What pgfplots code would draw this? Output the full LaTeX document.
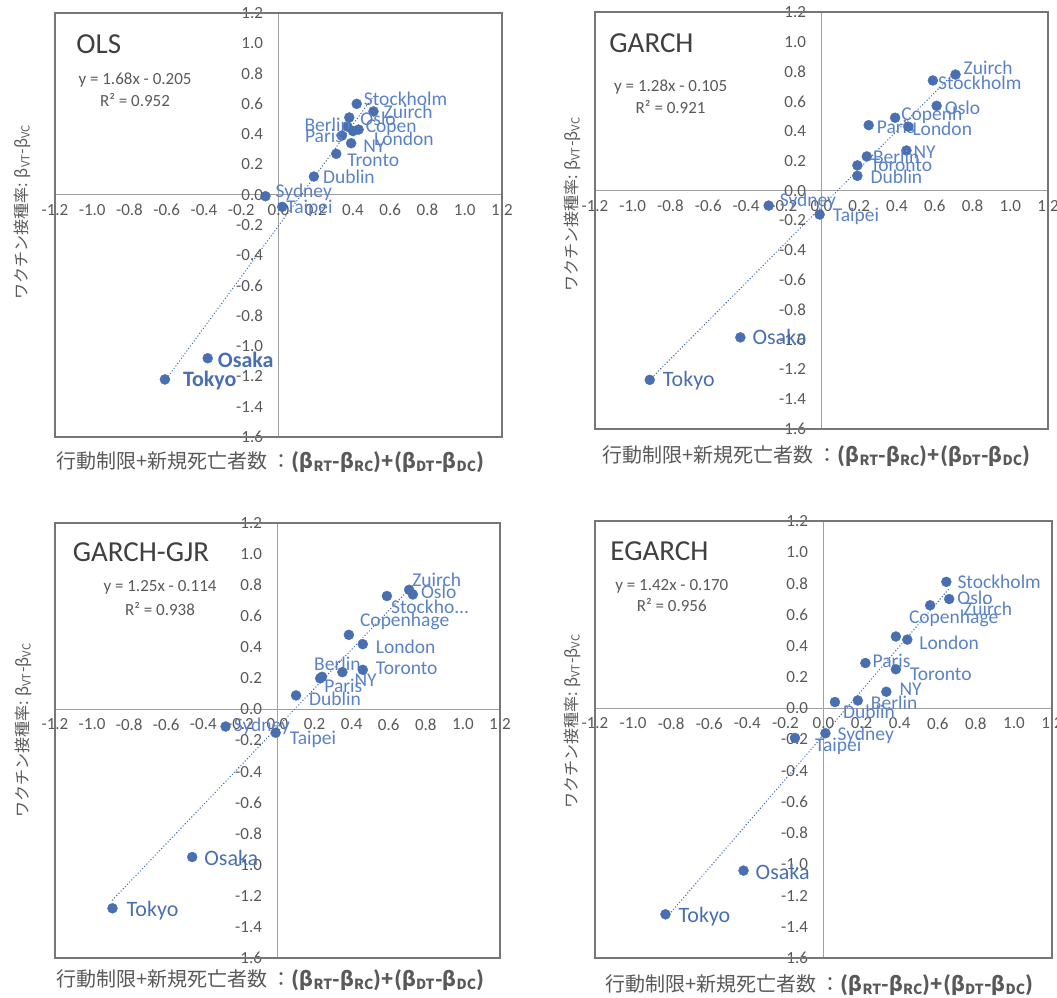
\documentclass[border=0pt]{standalone}
\usepackage{pgfplots}
\usepackage{pgfplotstable}
\pgfplotsset{compat=1.18}
\usepackage{fontspec}
\setmainfont{Carlito}
\newfontfamily\cjk{Noto Sans CJK JP}
\definecolor{ptblue}{HTML}{4A6FB0}
\definecolor{lblblue}{HTML}{5A82C6}
\definecolor{tickgray}{HTML}{595959}
\definecolor{axgray}{HTML}{A0A0A0}
\definecolor{framegray}{HTML}{767676}
\definecolor{titlegray}{HTML}{404040}

% ---------- OLS ----------
\pgfplotstableread{
x y lab dx dy
0.42 0.60 Stockholm 7 5
0.51 0.55 Zuirch 10 0
0.38 0.51 Oslo 11 -1
0.43 0.43 Copen 7 2
0.37 0.45 Berlin -43 2
0.34 0.39 Paris -37 0
0.40 0.42 London 21 -8
0.39 0.34 NY 12 -3
0.31 0.27 Tronto 11 -6
0.19 0.12 Dublin 9 0
-0.07 -0.01 Sydney 10 4
0.02 -0.08 Taipei 4 -2
}\olsmain
\pgfplotstableread{
x y lab dx dy
-0.38 -1.08 Osaka 10 -2
-0.61 -1.22 Tokyo 18 -1
}\olsjp
% ---------- GARCH ----------
\pgfplotstableread{
x y lab dx dy
0.71 0.78 Zuirch 8 7
0.59 0.74 Stockholm 5 -2
0.61 0.57 Oslo 8 -2
0.39 0.49 Copenh 6 2
0.25 0.44 Paris 8 -2
0.46 0.43 London 4 -2
0.45 0.27 NY 7 -2
0.24 0.23 Berlin 6 0
0.19 0.17 Toronto 13 0
0.19 0.10 Dublin 13 -1
-0.28 -0.10 Sydney 11 4
-0.01 -0.16 Taipei 13 -2
}\garchmain
\pgfplotstableread{
x y lab dx dy
-0.43 -0.985 Osaka 12 0
-0.91 -1.27 Tokyo 13 -1
}\garchjp
% ---------- GARCH-GJR ----------
\pgfplotstableread{
x y lab dx dy
0.71 0.77 Zuirch 3 10
0.73 0.74 Oslo 8 3
0.59 0.73 Stockho... 4 -11
0.385 0.48 Copenhage 11 13
0.46 0.42 London 13 -3
0.24 0.21 Berlin -8 13
0.23 0.20 Paris 4 -8
0.35 0.24 NY 12 -8
0.46 0.255 Toronto 13 1
0.10 0.09 Dublin 13 -3
-0.28 -0.11 Sydney 8 0
-0.01 -0.15 Taipei 14 -7
}\gjrmain
\pgfplotstableread{
x y lab dx dy
-0.46 -0.95 Osaka 12 -1
-0.89 -1.28 Tokyo 14 -2
}\gjrjp
% ---------- EGARCH ----------
\pgfplotstableread{
x y lab dx dy
0.645 0.81 Stockholm 11 0
0.66 0.70 Oslo 8 1
0.56 0.66 Zuirch 33 -4
0.38 0.46 Copenhage 13 18
0.44 0.44 London 12 -3
0.22 0.29 Paris 7 2
0.38 0.25 Toronto 14 -5
0.33 0.106 NY 13 2
0.18 0.05 Berlin 13 -2
0.06 0.04 Dublin 8 -10
0.01 -0.16 Sydney 12 -2
-0.15 -0.19 Taipei 20 -8
}\egmain
\pgfplotstableread{
x y lab dx dy
-0.42 -1.04 Osaka 12 -1
-0.83 -1.32 Tokyo 13 -2
}\egjp

\pgfplotsset{
  panel/.style={
    scale only axis, anchor=south west, clip=false,
    xmin=-1.2, xmax=1.2, ymin=-1.6, ymax=1.2,
    axis lines=middle,
    axis line style={draw=axgray, line width=1.3pt, -},
    xtick={-1.2,-1,-0.8,-0.6,-0.4,-0.2,0,0.2,0.4,0.6,0.8,1,1.2},
    ytick={-1.6,-1.4,-1.2,-1,-0.8,-0.6,-0.4,-0.2,0,0.2,0.4,0.6,0.8,1,1.2},
    major tick length=0pt,
    hide obscured x ticks=false, hide obscured y ticks=false,
    /pgf/number format/fixed, /pgf/number format/fixed zerofill,
    /pgf/number format/precision=1, /pgf/number format/assume math mode=true,
    tick label style={font=\fontsize{17}{17}\selectfont, text=tickgray},
    xticklabel style={anchor=north, yshift=-6pt},
    yticklabel style={anchor=east, xshift=-12pt},
    xlabel={行動制限+新規死亡者数 ：\textbf{(β\textsubscript{RT}-β\textsubscript{RC})+(β\textsubscript{DT}-β\textsubscript{DC})}},
    ylabel={ワクチン接種率: β\textsubscript{VT}-β\textsubscript{VC}},
  },
  xlabpos/.style 2 args={every axis x label/.style={at={([xshift=#1pt,yshift=#2pt]axis description cs:0.5,0)}, anchor=center, font=\cjk\fontsize{20}{20}\selectfont, text=tickgray}},
  ylabpos/.style 2 args={every axis y label/.style={at={([xshift=#1pt,yshift=#2pt]axis description cs:0,0.5)}, anchor=center, rotate=90, font=\cjk\fontsize{16}{16}\selectfont, text=tickgray}},
  cities/.style={only marks, mark=*, mark size=5pt,
    mark options={draw=ptblue, fill=ptblue},
    point meta=explicit symbolic, nodes near coords,
    visualization depends on={\thisrow{dx}\as\lblshiftx},
    visualization depends on={\thisrow{dy}\as\lblshifty},
    nodes near coords style={anchor=west, inner sep=0pt, xshift=\lblshiftx pt, yshift=\lblshifty pt,
      font=\fontsize{19.5}{19.5}\selectfont, text=lblblue}},
  jpcities/.style={cities, nodes near coords style={font=\fontsize{22}{22}\selectfont#1, text=ptblue}},
  trend/.style={ptblue, line width=1.5pt, dash pattern=on 0.1pt off 3pt, line cap=round},
}

\newcommand{\panelframe}{\draw[framegray, line width=2.5pt] (rel axis cs:0,0) rectangle (rel axis cs:1,1);}

\begin{document}
\begin{tikzpicture}[x=1pt,y=1pt]
\useasboundingbox (0,0) rectangle (1057,998);

% ===== OLS =====
\begin{axis}[panel, at={(55pt,561pt)}, width=447pt, height=424pt,
  xlabpos={-8}{-25}, ylabpos={-33}{13}]
\panelframe
\addplot[trend] coordinates {(-0.61,-1.23) (0.51,0.65)};
\addplot[cities] table[x=x,y=y,meta=lab] {\olsmain};
\addplot[jpcities=\bfseries] table[x=x,y=y,meta=lab] {\olsjp};
\node[anchor=west, font=\fontsize{29}{29}\selectfont, text=titlegray] at (rel axis cs:0.04,0.927) {OLS};
\node[font=\fontsize{17}{17}\selectfont, text=tickgray] at (rel axis cs:0.179,0.842) {y = 1.68x - 0.205};
\node[font=\fontsize{17}{17}\selectfont, text=tickgray] at (rel axis cs:0.179,0.795) {R² = 0.952};
\end{axis}

% ===== GARCH =====
\begin{axis}[panel, at={(595pt,569pt)}, width=453pt, height=417pt,
  xlabpos={-5}{-27}, ylabpos={-23}{16}]
\panelframe
\addplot[trend] coordinates {(-0.91,-1.27) (0.71,0.80)};
\addplot[cities] table[x=x,y=y,meta=lab] {\garchmain};
\addplot[jpcities=] table[x=x,y=y,meta=lab] {\garchjp};
\node[anchor=west, font=\fontsize{29}{29}\selectfont, text=titlegray] at (rel axis cs:0.024,0.926) {GARCH};
\node[font=\fontsize{17}{17}\selectfont, text=tickgray] at (rel axis cs:0.167,0.820) {y = 1.28x - 0.105};
\node[font=\fontsize{17}{17}\selectfont, text=tickgray] at (rel axis cs:0.167,0.772) {R² = 0.921};
\end{axis}

% ===== GARCH-GJR =====
\begin{axis}[panel, at={(55pt,40pt)}, width=445pt, height=435pt,
  xlabpos={-7}{-22}, ylabpos={-32}{10}]
\panelframe
\addplot[trend] coordinates {(-0.89,-1.227) (0.73,0.799)};
\addplot[cities] table[x=x,y=y,meta=lab] {\gjrmain};
\addplot[jpcities=] table[x=x,y=y,meta=lab] {\gjrjp};
\node[anchor=west, font=\fontsize{29}{29}\selectfont, text=titlegray] at (rel axis cs:0.032,0.932) {GARCH-GJR};
\node[font=\fontsize{17}{17}\selectfont, text=tickgray] at (rel axis cs:0.236,0.851) {y = 1.25x - 0.114};
\node[font=\fontsize{17}{17}\selectfont, text=tickgray] at (rel axis cs:0.236,0.802) {R² = 0.938};
\end{axis}

% ===== EGARCH =====
\begin{axis}[panel, at={(595pt,40pt)}, width=457pt, height=437pt,
  xlabpos={-4}{-27}, ylabpos={-23}{18}]
\panelframe
\addplot[trend] coordinates {(-0.83,-1.349) (0.66,0.767)};
\addplot[cities] table[x=x,y=y,meta=lab] {\egmain};
\addplot[jpcities=] table[x=x,y=y,meta=lab] {\egjp};
\node[anchor=west, font=\fontsize{29}{29}\selectfont, text=titlegray] at (rel axis cs:0.026,0.930) {EGARCH};
\node[font=\fontsize{17}{17}\selectfont, text=tickgray] at (rel axis cs:0.168,0.851) {y = 1.42x - 0.170};
\node[font=\fontsize{17}{17}\selectfont, text=tickgray] at (rel axis cs:0.168,0.808) {R² = 0.956};
\end{axis}
\end{tikzpicture}
\end{document}
